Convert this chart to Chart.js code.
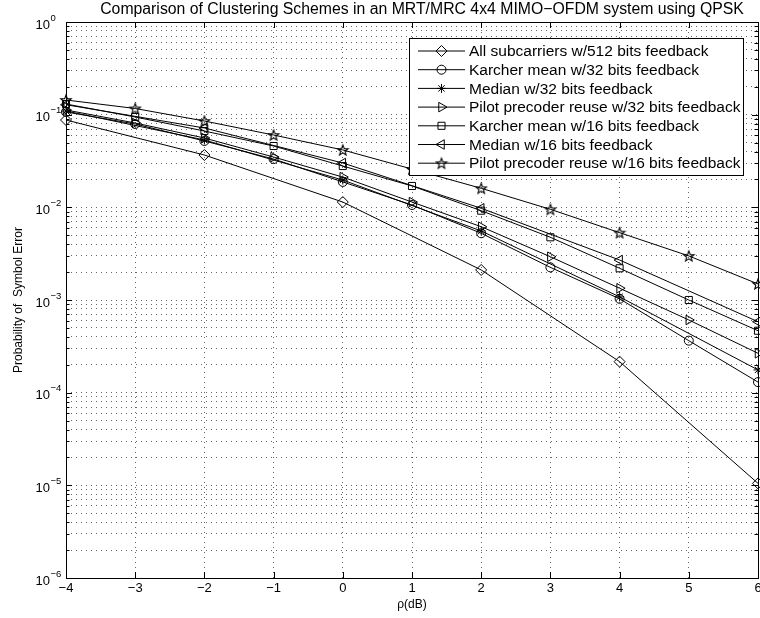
<!DOCTYPE html>
<html>
<head>
<meta charset="utf-8">
<script src="https://cdn.jsdelivr.net/npm/chart.js@4.4.1/dist/chart.umd.min.js"></script>
<style>
  html, body { margin: 0; padding: 0; background: #fff; }
</style>
</head>
<body>
<canvas id="chartPse" width="760" height="618"></canvas>
<script>
// ── Data ──
const chartTitle = 'Comparison of Clustering Schemes in an MRT/MRC 4x4 MIMO\u2212OFDM system using QPSK';
const xLabel = '\u03c1(dB)';
const yLabel = 'Probability of  Symbol Error';

const xAll = [-4, -3, -2, -1, 0, 1, 2, 3, 4, 5, 6];
const xEven = [-4, -2, 0, 2, 4, 6];
const decadeExps = [0, -1, -2, -3, -4, -5, -6];

const allSub512 = [0.0876, 0.0367, 0.0114, 0.00211, 0.000216, 0.0000105];
const karcher32 = [0.1069, 0.0793, 0.0520, 0.0332, 0.0188, 0.0106, 0.00525, 0.00225, 0.00103, 0.000364, 0.000130];
const median32 = [0.1095, 0.0533, 0.0197, 0.00556, 0.00108, 0.000176];
const pilot32 = [0.1123, 0.0813, 0.0560, 0.0349, 0.0212, 0.0114, 0.00618, 0.00293, 0.00134, 0.000609, 0.000266];
const karcher16 = [0.1303, 0.0944, 0.0666, 0.0459, 0.0279, 0.0170, 0.00920, 0.00475, 0.00220, 0.00100, 0.000466];
const median16 = [0.1280, 0.0718, 0.0301, 0.00977, 0.00270, 0.000583];
const pilot16 = [0.1440, 0.1166, 0.0854, 0.0603, 0.0416, 0.0259, 0.01605, 0.00952, 0.00533, 0.00299, 0.00149];

const seriesNames = [
  'All subcarriers w/512 bits feedback',
  'Karcher mean w/32 bits feedback',
  'Median w/32 bits feedback',
  'Pilot precoder reuse w/32 bits feedback',
  'Karcher mean w/16 bits feedback',
  'Median w/16 bits feedback',
  'Pilot precoder reuse w/16 bits feedback'
];

const FONT = "'Liberation Sans', Arial, Helvetica, sans-serif";

// MATLAB-like pentagram marker (no built-in one in Chart.js)
function makePentagram(r) {
  const size = Math.ceil(r * 2 + 3);
  const c = document.createElement('canvas');
  c.width = size; c.height = size;
  const g = c.getContext('2d');
  const cx = size / 2, cy = size / 2 + 0.5, ri = r * 0.42;
  g.beginPath();
  for (let i = 0; i < 10; i++) {
    const rad = (i % 2 ? ri : r);
    const a = -Math.PI / 2 + i * Math.PI / 5;
    const px = cx + rad * Math.cos(a), py = cy + rad * Math.sin(a);
    i ? g.lineTo(px, py) : g.moveTo(px, py);
  }
  g.closePath();
  g.lineWidth = 1.1;
  g.strokeStyle = '#000';
  g.stroke();
  return c;
}
const pentagram = makePentagram(5.5);

const markers = [
  { pointStyle: 'rectRot', radius: 5.5, rotation: 0 },
  { pointStyle: 'circle', radius: 4.5, rotation: 0 },
  { pointStyle: 'star', radius: 4.5, rotation: 0 },
  { pointStyle: 'triangle', radius: 5.5, rotation: 90 },
  { pointStyle: 'rect', radius: 5, rotation: 0 },
  { pointStyle: 'triangle', radius: 5.5, rotation: -90 },
  { pointStyle: pentagram, radius: 6, rotation: 0 }
];

const seriesX = [xEven, xAll, xEven, xAll, xAll, xEven, xAll];
const seriesY = [allSub512, karcher32, median32, pilot32, karcher16, median16, pilot16];

const datasets = seriesNames.map((name, i) => ({
  label: name,
  data: seriesX[i].map((x, j) => ({ x, y: seriesY[i][j] })),
  borderColor: '#000',
  borderWidth: 1,
  pointStyle: markers[i].pointStyle,
  pointRadius: markers[i].radius,
  pointRotation: markers[i].rotation,
  pointBorderColor: '#000',
  pointBackgroundColor: 'rgba(0,0,0,0)',
  pointBorderWidth: 1,
  tension: 0,
  fill: false,
  clip: false
}));

// Box, inner ticks, tick labels, title and legend, MATLAB style
const matlabFrame = {
  id: 'matlabFrame',
  afterDraw(chart) {
    const { ctx, chartArea: a, scales: { x, y } } = chart;
    ctx.save();
    ctx.strokeStyle = '#000';
    ctx.lineWidth = 1;
    ctx.setLineDash([]);
    ctx.strokeRect(Math.round(a.left) + 0.5, Math.round(a.top) + 0.5,
      Math.round(a.right - a.left), Math.round(a.bottom - a.top));

    ctx.beginPath();
    xAll.forEach(v => {
      const px = Math.round(x.getPixelForValue(v)) + 0.5;
      ctx.moveTo(px, a.bottom); ctx.lineTo(px, a.bottom - 6);
      ctx.moveTo(px, a.top); ctx.lineTo(px, a.top + 6);
    });
    y.ticks.forEach(t => {
      const py = Math.round(y.getPixelForValue(t.value)) + 0.5;
      const len = t.major ? 6 : 3.5;
      ctx.moveTo(a.left, py); ctx.lineTo(a.left + len, py);
      ctx.moveTo(a.right, py); ctx.lineTo(a.right - len, py);
    });
    ctx.stroke();

    ctx.fillStyle = '#000';
    // x tick labels
    ctx.font = '13px ' + FONT;
    ctx.textAlign = 'center';
    ctx.textBaseline = 'middle';
    xAll.forEach(v => {
      ctx.fillText(v < 0 ? '\u2212' + Math.abs(v) : String(v), x.getPixelForValue(v), a.bottom + 10);
    });

    // y decade labels with superscript exponents
    decadeExps.forEach(e => {
      const py = y.getPixelForValue(Math.pow(10, e));
      ctx.font = '13px ' + FONT;
      ctx.textAlign = 'right';
      ctx.textBaseline = 'middle';
      ctx.fillText('10', a.left - 16, py + 3);
      ctx.font = '9.5px ' + FONT;
      ctx.textAlign = 'left';
      ctx.fillText(e === 0 ? '0' : '\u2212' + Math.abs(e), a.left - 15.5, py - 4);
    });

    // title
    ctx.font = '15.8px ' + FONT;
    ctx.textAlign = 'center';
    ctx.textBaseline = 'middle';
    ctx.fillText(chartTitle, (a.left + a.right) / 2 + 10, 10);

    // legend
    const lx = a.right - 349, ly = a.top + 16, lw = 334, lh = 137;
    ctx.fillStyle = '#fff';
    ctx.fillRect(lx, ly, lw, lh);
    ctx.strokeStyle = '#000';
    ctx.strokeRect(lx + 0.5, ly + 0.5, lw, lh);
    chart.data.datasets.forEach((ds, i) => {
      const ry = ly + 13 + i * 18.7;
      ctx.beginPath();
      ctx.moveTo(lx + 9, ry); ctx.lineTo(lx + 56, ry);
      ctx.lineWidth = 1;
      ctx.strokeStyle = '#000';
      ctx.stroke();
      ctx.fillStyle = 'rgba(0,0,0,0)';
      Chart.helpers.drawPoint(ctx, {
        pointStyle: ds.pointStyle, radius: ds.pointRadius,
        rotation: ds.pointRotation, borderWidth: 1
      }, lx + 32.5, ry);
      ctx.fillStyle = '#000';
      ctx.font = '15.5px ' + FONT;
      ctx.textAlign = 'left';
      ctx.textBaseline = 'middle';
      ctx.fillText(ds.label, lx + 60, ry + 1);
    });
    ctx.restore();
  }
};

const gridStyle = { color: 'rgba(0,0,0,0.6)', lineWidth: 1, drawTicks: false };
const gridBorder = { display: false, dash: [1, 4] };

new Chart(document.getElementById('chartPse'), {
  type: 'line',
  data: { datasets },
  options: {
    responsive: false,
    devicePixelRatio: 1,
    animation: false,
    events: [],
    layout: { autoPadding: false, padding: { top: 22, right: 2, left: 0, bottom: 0 } },
    plugins: {
      legend: { display: false },
      tooltip: { enabled: false },
      title: { display: false }
    },
    scales: {
      x: {
        type: 'linear',
        min: -4,
        max: 6,
        ticks: { stepSize: 1, display: false },
        grid: gridStyle,
        border: gridBorder,
        title: {
          display: true,
          text: xLabel,
          color: '#000',
          font: { size: 12, family: FONT },
          padding: { top: 0, bottom: 6 }
        },
        afterFit(scale) {
          scale.height = 40;
          scale.paddingLeft = 0;
          scale.paddingRight = 0;
        }
      },
      y: {
        type: 'logarithmic',
        min: 1e-6,
        max: 1,
        ticks: { display: false },
        grid: gridStyle,
        border: gridBorder,
        title: {
          display: true,
          text: yLabel,
          color: '#000',
          font: { size: 12, family: FONT },
          padding: { top: 11, bottom: 0 }
        },
        afterBuildTicks(scale) {
          const ticks = [];
          decadeExps.slice().reverse().forEach(e => {
            for (let m = 1; m <= 9; m++) {
              if (e === 0 && m > 1) break;
              ticks.push({ value: m * Math.pow(10, e), major: m === 1 });
            }
          });
          scale.ticks = ticks;
        },
        afterFit(scale) {
          scale.width = 66;
          scale.paddingTop = 0;
          scale.paddingBottom = 0;
        }
      }
    }
  },
  plugins: [matlabFrame]
});
</script>
</body>
</html>
